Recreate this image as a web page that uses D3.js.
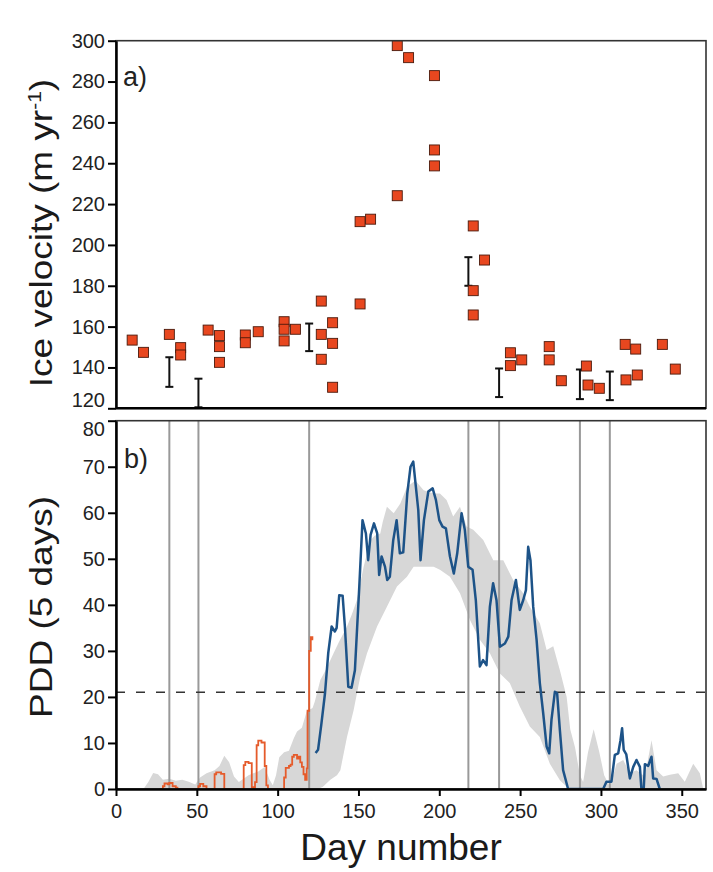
<!DOCTYPE html>
<html>
<head>
<meta charset="utf-8">
<script src="https://cdn.jsdelivr.net/npm/d3@7"></script>
<style>
  body { margin: 0; background: #fff; }
  svg { display: block; font-family: "Liberation Sans", Arial, sans-serif; }
</style>
</head>
<body>
<div class="chart"></div>
<script>
// panel a: ice velocity observations
const velDays = [10, 17, 33, 40, 40, 57, 64, 64, 64, 80, 80, 88, 104, 104, 104, 111, 127, 127, 127, 134, 134, 134,
  151, 157.5, 151, 174, 181, 197, 197, 197, 174, 221, 228, 221, 221, 244, 244, 251, 268, 268, 275.5, 291, 292, 299,
  315, 321.5, 315.5, 322.5, 338, 346];
const velValues = [153.4, 147.4, 156.2, 149.7, 146.1, 158.3, 155.6, 150.2, 142.5, 155.9, 152.1, 157.5, 162.4, 158.7, 153, 158.7, 172.5, 156.2, 144, 161.9, 151.8, 130.3,
  211.4, 212.6, 171.1, 297.6, 291.7, 282.9, 246.5, 238.7, 224.1, 209.3, 192.6, 177.6, 165.7, 147.2, 140.9, 143.7, 150.2, 143.7, 133.5, 140.7, 131.4, 129.8,
  151.3, 149, 133.9, 136.3, 151.3, 139.2];

// error bars (also the vertical marker lines in panel b)
const errDays = [33, 51, 119.5, 218, 237, 287, 305.5];
const errLow = [130.5, 120.5, 148, 180, 125.5, 124.5, 124];
const errHigh = [145, 134.5, 161.5, 194, 139.5, 139, 138];

// panel b: 5-day PDD, early part (orange, stepped)
const earlyDays = [27, 29, 30, 32, 33, 35, 37, 38, 51, 52, 54, 56, 61, 62, 65, 67, 79, 80, 82, 84, 85, 86, 87, 88, 90, 92, 93, 94,
  104, 105, 107, 108, 109, 110, 112, 113, 114, 115, 116, 117, 118, 118.5, 119.5, 120.5, 121.5, 122];
const earlyPdd = [0, 0.6, 1.2, 1.0, 1.3, 0.6, 0.3, 0, 0.6, 1.1, 0.6, 0, 3.2, 3.6, 3.3, 0, 5.2, 5.9, 5.6, 0.4, 0, 1.5, 9.5, 10.5, 10.1, 5, 0.8, 0,
  2.5, 4.6, 5, 5.3, 7, 7.4, 6.6, 7, 5.8, 4.8, 3.2, 2, 4.5, 17, 30, 33, 32.5, 32.5];

// panel b: 5-day PDD, main season (blue)
const seasonDays = [123.5, 125, 127, 129.3, 131.3, 133.4, 135.4, 136.5, 138.1, 140.2, 141.6, 143.7, 145.7, 147.8, 150.5, 152.5, 154.6, 156,
  157.5, 159.6, 161.6, 162.8, 164.3, 166.4, 167.8, 169.4, 171.5, 173.6, 175.6, 177.7, 180.2, 182.2, 183.9, 185.5, 187, 188.4, 190.5,
  193.2, 195.9, 197.9, 200, 202, 204.1, 206.6, 209, 211.1, 213.8, 215.8, 217.9, 220.6, 222.6, 225.1, 227.1, 229.2, 231.3, 233.3,
  235.4, 237.5, 240.6, 242.7, 244.7, 247.4, 249.8, 251.9, 253.6, 255, 256.4, 258.1, 260.2, 262.2, 264.3, 266.4, 268, 269.4, 271.5,
  272.9, 274.6, 276.6, 279.7, 301.4, 303.4, 306.5, 308.6, 310.7, 312.1, 313.1, 314.1, 315.7, 317.9, 320, 322, 324.1, 325, 326.5,
  327.2, 329.2, 331.3, 332.3, 334.4, 336.4];
const seasonPdd = [7.8, 8.5, 14, 20.8, 29.5, 35.3, 34.2, 35, 42.1, 42, 35.3, 22.2, 22, 25.8, 43.9, 58.4, 55.5, 49.7,
  55.2, 57.7, 55.5, 46.5, 50.5, 48.3, 45.4, 46.1, 54, 58.4, 51.2, 51.4, 64.2, 70, 71.1, 65.7, 60.6, 49.7, 58.4,
  64.6, 65.3, 62.8, 58.4, 57, 56.6, 50.5, 46.8, 51.2, 59.9, 56.3, 48.3, 47.6, 41, 26.6, 28, 26.9, 39.6, 44.7,
  41, 30.9, 31.6, 33.1, 41, 45.4, 38.9, 41, 43.2, 52.6, 49.7, 39.6, 32.4, 23, 16.4, 9.2, 7.75, 15, 21.1,
  20.8, 12.8, 4.1, 0, 0, 1.6, 1.6, 7.4, 7.75, 10.6, 13.2, 8.5, 7.5, 2.3, 4.8, 6.3, 4.8, 0.2, 0.2,
  5.4, 5, 7, 2.3, 2.2, 0];

// grey envelope (upper and lower edges)
const bandTopDays = [17, 20, 23, 26, 29, 33, 37, 41, 45, 49, 52, 56, 61, 64, 67, 70, 73, 76, 78, 82, 85, 88, 92, 95, 97, 99, 101, 104,
  107, 110, 112, 115, 118, 121.6, 123, 126.4, 130, 134.6, 138, 142.9, 146, 149, 153.2, 157.3, 160, 163.5, 165, 167.6, 171.8, 175.9,
  180, 185.2, 190.3, 196.5, 200.4, 204.5, 208.6, 212.8, 216.9, 221, 227.2, 233.4, 239.6, 245.7, 251.9, 256, 262.2, 266.4, 270.5,
  274.6, 278.8, 281, 284, 287, 289, 292, 295.5, 299, 302, 305.5, 309.7, 313.8, 317.9, 322, 327.2, 331.3, 334.4, 338.5, 342.7,
  347.8, 351.9, 357.1, 361.2, 363.3];
const bandTop = [0, 1.5, 3.5, 3.2, 2, 2.2, 1.8, 2, 1.6, 1, 2.5, 3.4, 4.1, 5, 7.2, 5.8, 2.7, 1.5, 2, 3, 3.4, 3.8, 4.8, 2, 0.8, 3, 6.9, 8,
  8.3, 11, 12.5, 13.3, 16.9, 17.6, 19, 23.7, 26, 29.5, 32, 35.3, 38, 41, 48.3, 54, 55, 55.5, 58, 61.3, 59.9, 62,
  65.6, 67, 64.9, 64.2, 64.2, 62.8, 59.2, 61.3, 57, 56.3, 54.1, 49.7, 49.7, 45.4, 42.5, 39.6, 36, 30.2, 31,
  25.8, 20, 13, 9, 3, 1.5, 8, 13, 8, 3, 0.5, 5.5, 6.3, 3.4, 4.1, 2.7, 10.6, 4.1, 2.7, 3.1,
  3.4, 1.6, 5.5, 3.4, 0];
const bandLowDays = [17, 125, 128, 132.6, 136.7, 138.8, 142.9, 147, 151.1, 155.3, 161.5, 167.6, 173.8, 180, 184.1, 190.3, 196.5, 200.4,
  206.6, 212.8, 219, 225.1, 231.3, 237.5, 243.6, 249.8, 256, 262.2, 268.4, 274.6, 278.8, 282, 363.3];
const bandLow = [0, 0, 0.5, 2, 3, 4.1, 11.3, 17.1, 24.4, 29.5, 35.3, 39.6, 44, 46.1, 48.3, 48.3, 48.3, 47.6,
  46.1, 42.5, 36.7, 32.4, 29.5, 25.1, 23, 17.9, 13.6, 11.3, 5.5, 1.9, 0.5, 0, 0];

const pddThreshold = 21;
const velTicks = [120, 140, 160, 180, 200, 220, 240, 260, 280, 300];
const pddTicks = [0, 10, 20, 30, 40, 50, 60, 70, 80];
const dayTicks = [0, 50, 100, 150, 200, 250, 300, 350];

const w = 713, h = 872;
const left = 116, right = 706;
const aTop = 40.7, aBottom = 408.3;
const bTop = 420.7, bBottom = 789;
const tickFont = "Liberation Sans, Arial, sans-serif";

const svg = d3.select(".chart").append("svg")
  .attr("width", w).attr("height", h);

const x = d3.scaleLinear().domain([0, 365]).range([left, right]);
const ya = d3.scaleLinear().domain([120, 300]).range([aBottom, aTop]);
const yb = d3.scaleLinear().domain([0, 80]).range([bBottom, bTop]);

svg.append("defs").append("clipPath").attr("id", "clipb")
  .append("rect").attr("x", left).attr("y", bTop).attr("width", right - left).attr("height", bBottom - bTop);

// ---------- panel a ----------
const velData = velDays.map((d, i) => [d, velValues[i]]);
const errData = errDays.map((d, i) => ({day: d, lo: errLow[i], hi: errHigh[i]}));

const eb = svg.append("g").selectAll("g").data(errData).enter().append("g")
  .attr("stroke", "#111").attr("stroke-width", 2);
eb.append("line").attr("x1", d => x(d.day)).attr("x2", d => x(d.day))
  .attr("y1", d => ya(d.lo)).attr("y2", d => ya(d.hi));
eb.append("line").attr("x1", d => x(d.day) - 4).attr("x2", d => x(d.day) + 4)
  .attr("y1", d => ya(d.lo)).attr("y2", d => ya(d.lo));
eb.append("line").attr("x1", d => x(d.day) - 4).attr("x2", d => x(d.day) + 4)
  .attr("y1", d => ya(d.hi)).attr("y2", d => ya(d.hi));

const sq = 10;
svg.append("g").selectAll("rect").data(velData).enter().append("rect")
  .attr("x", d => x(d[0]) - sq / 2)
  .attr("y", d => ya(d[1]) - sq / 2)
  .attr("width", sq).attr("height", sq)
  .attr("fill", "#e8471f")
  .attr("stroke", "#4a1a0c")
  .attr("stroke-width", 0.9);

svg.append("rect").attr("x", left).attr("y", aTop).attr("width", right - left).attr("height", aBottom - aTop)
  .attr("fill", "none").attr("stroke", "#333").attr("stroke-width", 1.6);

const yAxisA = svg.append("g")
  .attr("transform", `translate(${left},0)`)
  .call(d3.axisLeft(ya).tickValues(velTicks).tickSize(8).tickPadding(3).tickSizeOuter(0));
yAxisA.selectAll("text").filter(d => d === 120).attr("dy", "-0.08em");

svg.append("line").attr("x1", left).attr("x2", right).attr("y1", aBottom).attr("y2", aBottom)
  .attr("stroke", "#000").attr("stroke-width", 2.5);

svg.append("text").attr("x", 123).attr("y", 86).attr("font-size", 27).attr("fill", "#222").text("a)");

// ---------- panel b ----------
const gb = svg.append("g").attr("clip-path", "url(#clipb)");

const topPts = bandTopDays.map((d, i) => [d, bandTop[i]]);
const lowPts = bandLowDays.map((d, i) => [d, bandLow[i]]).reverse();
gb.append("path")
  .attr("d", d3.line().x(d => x(d[0])).y(d => yb(d[1]))(topPts.concat(lowPts)) + "Z")
  .attr("fill", "#d7d7d7");

gb.selectAll(".vl").data(errDays).enter().append("line")
  .attr("x1", d => x(d)).attr("x2", d => x(d))
  .attr("y1", bTop).attr("y2", bBottom)
  .attr("stroke", "#999").attr("stroke-width", 2);

gb.append("line").attr("x1", left).attr("x2", right)
  .attr("y1", yb(pddThreshold)).attr("y2", yb(pddThreshold))
  .attr("stroke", "#333").attr("stroke-width", 1.6).attr("stroke-dasharray", "9,11");

gb.append("path")
  .attr("d", d3.line().curve(d3.curveStepAfter).x(d => x(d[0])).y(d => yb(d[1]))(earlyDays.map((d, i) => [d, earlyPdd[i]])))
  .attr("fill", "none").attr("stroke", "#e55b2b").attr("stroke-width", 1.8);

gb.append("path")
  .attr("d", d3.line().x(d => x(d[0])).y(d => yb(d[1]))(seasonDays.map((d, i) => [d, seasonPdd[i]])))
  .attr("fill", "none").attr("stroke", "#1d5388").attr("stroke-width", 2.5).attr("stroke-linejoin", "round");

svg.append("rect").attr("x", left).attr("y", bTop).attr("width", right - left).attr("height", bBottom - bTop)
  .attr("fill", "none").attr("stroke", "#333").attr("stroke-width", 1.6);

const yAxisB = svg.append("g")
  .attr("transform", `translate(${left},0)`)
  .call(d3.axisLeft(yb).tickValues(pddTicks).tickSize(8).tickPadding(3).tickSizeOuter(0));
yAxisB.selectAll("text").filter(d => d === 80).attr("dy", "0.72em");

const xAxisB = svg.append("g")
  .attr("transform", `translate(0,${bBottom})`)
  .call(d3.axisBottom(x).tickValues(dayTicks).tickSize(7).tickPadding(8).tickSizeOuter(0));

svg.append("text").attr("x", 124).attr("y", 468).attr("font-size", 27).attr("fill", "#222").text("b)");

// axis styling: heavier lines, larger labels
[yAxisA, yAxisB, xAxisB].forEach(g => {
  g.attr("font-size", null).attr("font-family", null);
  g.selectAll("text").style("font-size", "20px").style("font-family", tickFont).attr("fill", "#222");
});
svg.selectAll(".domain").attr("stroke", "#000").attr("stroke-width", 2.5);
svg.selectAll(".tick line").attr("stroke", "#000").attr("stroke-width", 2);

// ---------- titles ----------
const t1 = svg.append("text")
  .attr("transform", "translate(52,233) rotate(-90) scale(1,0.87)")
  .attr("text-anchor", "middle").attr("font-size", 37).attr("fill", "#1a1a1a");
t1.append("tspan").text("Ice velocity (m yr");
t1.append("tspan").attr("dy", -13).attr("font-size", 21).text("-1");
t1.append("tspan").attr("dy", 13).text(")");

svg.append("text")
  .attr("transform", "translate(52,607) rotate(-90) scale(1,0.87)")
  .attr("text-anchor", "middle").attr("font-size", 37).attr("fill", "#1a1a1a")
  .text("PDD (5 days)");

svg.append("text").attr("x", 401).attr("y", 860)
  .attr("text-anchor", "middle").attr("font-size", 37).attr("fill", "#1a1a1a")
  .text("Day number");
</script>
</body>
</html>
